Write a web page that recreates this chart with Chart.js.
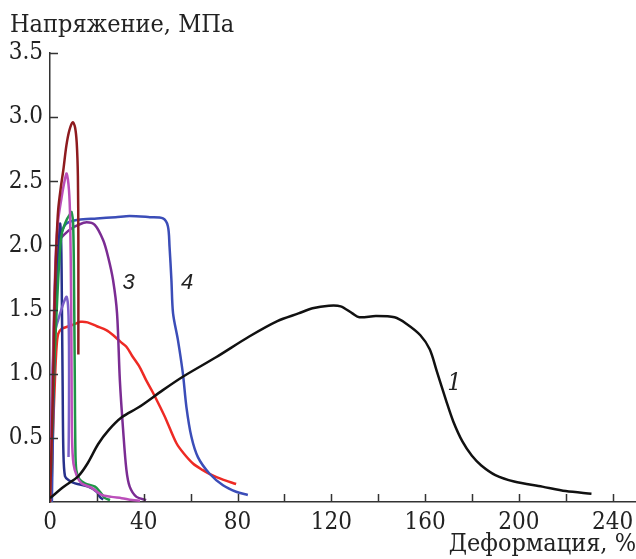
<!DOCTYPE html>
<html>
<head>
<meta charset="utf-8">
<script src="https://cdn.jsdelivr.net/npm/chart.js@4/dist/chart.umd.min.js"></script>
<style>
  body { margin: 0; background: #fff; }
  canvas { display: block; }
</style>
</head>
<body>
<canvas id="stressChart" width="636" height="559"></canvas>
<script>
// stress-strain curves: strain (%) and stress (MPa)
const strain1 = [0, 6, 12, 16, 20.5, 25, 30.6, 38, 48, 57, 71, 85, 97, 106, 112, 119, 124, 129, 132, 139, 147, 152, 158, 162, 165, 169, 172, 176, 180, 184, 190, 198, 210, 220, 231];
const stress1 = [0.03, 0.12, 0.2, 0.3, 0.45, 0.56, 0.66, 0.74, 0.87, 0.98, 1.13, 1.29, 1.41, 1.47, 1.51, 1.53, 1.525, 1.47, 1.44, 1.45, 1.44, 1.39, 1.30, 1.19, 1.02, 0.79, 0.63, 0.47, 0.36, 0.285, 0.21, 0.16, 0.12, 0.085, 0.065];

const strain4 = [0.8, 1.5, 2.5, 3.5, 5, 7, 12, 20, 28, 34, 42.6, 48.2, 50.3, 51, 51.8, 52.5, 54.6, 56.7, 58.2, 60.3, 63.1, 68.1, 73.8, 79.4, 84.4];
const stress4 = [0, 0.8, 1.6, 1.95, 2.1, 2.17, 2.2, 2.21, 2.22, 2.23, 2.22, 2.21, 2.15, 1.99, 1.73, 1.47, 1.26, 1.0, 0.74, 0.51, 0.35, 0.22, 0.13, 0.08, 0.055];

const strainRed = [0.5, 1.2, 2.1, 2.8, 3.5, 5, 8, 11, 13, 16, 20, 24, 27, 30, 32.6, 35, 38.3, 41, 44, 47, 49.6, 53.9, 57, 61, 65, 68, 73, 79.4];
const stressRed = [0, 0.5, 0.95, 1.21, 1.31, 1.35, 1.37, 1.39, 1.405, 1.40, 1.37, 1.34, 1.30, 1.25, 1.21, 1.14, 1.05, 0.95, 0.85, 0.74, 0.64, 0.46, 0.38, 0.30, 0.25, 0.22, 0.18, 0.14];

const strainMaroon = [0, 0.6, 1.3, 2.0, 2.8, 3.5, 4.6, 5.7, 7, 8.3, 9.7, 10.7, 11.4, 11.9, 12.1, 12.1];
const stressMaroon = [0, 0.4, 0.9, 1.6, 2.04, 2.28, 2.45, 2.59, 2.78, 2.9, 2.96, 2.92, 2.8, 2.54, 2.04, 1.15];

const strainPink = [0, 0.8, 1.6, 2.5, 3.5, 5, 6.2, 7.1, 8.1, 8.6, 9.0, 9.2, 9.4, 10, 11.5, 13.5, 17.8, 22, 26.3, 30.6, 35, 38.4];
const stressPink = [0, 0.7, 1.4, 1.95, 2.2, 2.38, 2.5, 2.56, 2.43, 2.2, 1.6, 1.0, 0.5, 0.3, 0.2, 0.145, 0.11, 0.055, 0.04, 0.03, 0.015, 0.01];

const strainGreen = [0, 1, 2, 3, 3.8, 5, 7.1, 8.4, 9.2, 9.9, 10.3, 10.6, 10.8, 11.2, 12.5, 14.9, 19.2, 21.3, 23.5, 25.6];
const stressGreen = [0, 0.6, 1.15, 1.55, 1.83, 2.09, 2.2, 2.24, 2.26, 2.15, 1.6, 0.9, 0.45, 0.25, 0.18, 0.145, 0.12, 0.08, 0.03, 0.015];

const strain3 = [0, 0.8, 1.6, 2.3, 2.8, 4, 6.4, 9, 12.1, 15.6, 19.1, 22.7, 24.8, 26.9, 28.6, 29.8, 31.2, 32.6, 34, 36.9, 41];
const stress3 = [0, 0.7, 1.3, 1.75, 1.96, 2.04, 2.09, 2.13, 2.16, 2.18, 2.16, 2.04, 1.91, 1.73, 1.47, 0.95, 0.56, 0.25, 0.12, 0.04, 0.015];

const strainLilac = [0, 0.5, 1.2, 2.1, 3.5, 5, 6.2, 7.1, 7.8, 8.1, 8.1, 8.0, 7.9];
const stressLilac = [0, 0.5, 1.0, 1.32, 1.42, 1.51, 1.57, 1.6, 1.5, 1.21, 0.8, 0.5, 0.35];

const strainNavy = [0, 0.8, 1.6, 2.4, 3.0, 3.6, 4.3, 4.8, 5.1, 5.4, 5.7, 6.4, 8, 10.7, 16.3, 19.9, 21.3, 22.7];
const stressNavy = [0, 0.5, 1.0, 1.5, 1.8, 2.05, 2.17, 2.0, 1.5, 0.9, 0.4, 0.2, 0.17, 0.145, 0.12, 0.08, 0.04, 0.02];

const xTicks = [0, 40, 80, 120, 160, 200, 240];
const yTicks = [0.5, 1.0, 1.5, 2.0, 2.5, 3.0, 3.5];

// curve numbers placed next to their lines (strain, stress)
const curveLabels = [
    { text: "1", x: 172.5, y: 0.92, font: "italic 25px DejaVu Serif Condensed" },
    { text: "3", x: 33.5, y: 1.71, font: "italic 22px Liberation Sans" },
    { text: "4", x: 58.5, y: 1.71, font: "italic 22px Liberation Sans" }
];

function points(xs, ys) {
    return xs.map((x, i) => ({ x: x, y: ys[i] }));
}

function line(xs, ys, color) {
    return {
        data: points(xs, ys),
        borderColor: color,
        borderWidth: 2.5,
        pointRadius: 0,
        tension: 0.3,
        fill: false
    };
}

function near(list, v) {
    return list.some(t => Math.abs(t - v) < 1e-6);
}

const serif = "DejaVu Serif Condensed";
Chart.defaults.font.family = serif;

// short tick marks pointing into the plot, plus the texts
const decorPlugin = {
    id: "decor",
    afterDraw(chart) {
        const ctx = chart.ctx;
        const xs = chart.scales.x;
        const ys = chart.scales.y;
        const area = chart.chartArea;
        ctx.save();
        ctx.strokeStyle = "#333";
        ctx.lineWidth = 1.5;
        ctx.beginPath();
        for (let v = 20; v <= 240; v += 20) {
            const px = Math.round(xs.getPixelForValue(v)) + 0.5;
            ctx.moveTo(px, area.bottom);
            ctx.lineTo(px, area.bottom - 8);
        }
        for (let v = 0.5; v <= 3.5; v += 0.5) {
            const py = Math.round(ys.getPixelForValue(v)) + 0.5;
            ctx.moveTo(area.left, py);
            ctx.lineTo(area.left + 8, py);
        }
        ctx.stroke();

        ctx.fillStyle = "#222";
        ctx.textBaseline = "middle";
        ctx.textAlign = "left";
        ctx.font = "25px " + serif;
        ctx.fillText("Напряжение, МПа", 10, 25);

        ctx.textAlign = "center";
        curveLabels.forEach(l => {
            ctx.font = l.font;
            ctx.fillText(l.text, xs.getPixelForValue(l.x), ys.getPixelForValue(l.y));
        });
        ctx.restore();
    }
};

function drawStressChart() {
    "use strict";
    let ctx = document.getElementById("stressChart");
    let stressChart = new Chart(ctx, {
        type: "line",
        data: {
            datasets: [
                line(strain1, stress1, "#111111"),
                line(strainMaroon, stressMaroon, "#8e1b1f"),
                line(strainPink, stressPink, "#bb4fba"),
                line(strainGreen, stressGreen, "#1e9646"),
                line(strainLilac, stressLilac, "#7a5ec8"),
                line(strainNavy, stressNavy, "#27318c"),
                line(strain3, stress3, "#7b2c93"),
                line(strain4, stress4, "#3b4db8"),
                line(strainRed, stressRed, "#ee2a24")
            ]
        },
        options: {
            responsive: false,
            animation: false,
            devicePixelRatio: 1,
            layout: { padding: { top: 53, right: 0, left: 0, bottom: 0 } },
            plugins: {
                legend: { display: false },
                tooltip: { enabled: false }
            },
            scales: {
                x: {
                    type: "linear",
                    min: 0,
                    max: 250,
                    afterFit: s => { s.height = 57; s.paddingRight = 0; s.paddingLeft = 0; },
                    grid: { drawOnChartArea: false, drawTicks: false },
                    border: { display: true, color: "#333", width: 1.5 },
                    ticks: {
                        stepSize: 20,
                        includeBounds: false,
                        autoSkip: false,
                        maxRotation: 0,
                        padding: 6,
                        color: "#222",
                        font: { family: serif, size: 24 },
                        callback: v => near(xTicks, v) ? String(Math.round(v)) : ""
                    },
                    title: {
                        display: true,
                        text: "Деформация, %",
                        align: "end",
                        color: "#222",
                        font: { family: serif, size: 25 },
                        padding: { top: 0, bottom: 0 }
                    }
                },
                y: {
                    type: "linear",
                    min: 0,
                    max: 3.5,
                    afterFit: s => { s.width = 50; },
                    grid: { drawOnChartArea: false, drawTicks: false },
                    border: { display: true, color: "#333", width: 1.5 },
                    ticks: {
                        stepSize: 0.5,
                        padding: 7,
                        color: "#222",
                        font: { family: serif, size: 24 },
                        callback: v => near(yTicks, v) ? v.toFixed(1) : ""
                    }
                }
            }
        },
        plugins: [decorPlugin]
    });
}
drawStressChart();
</script>
</body>
</html>
